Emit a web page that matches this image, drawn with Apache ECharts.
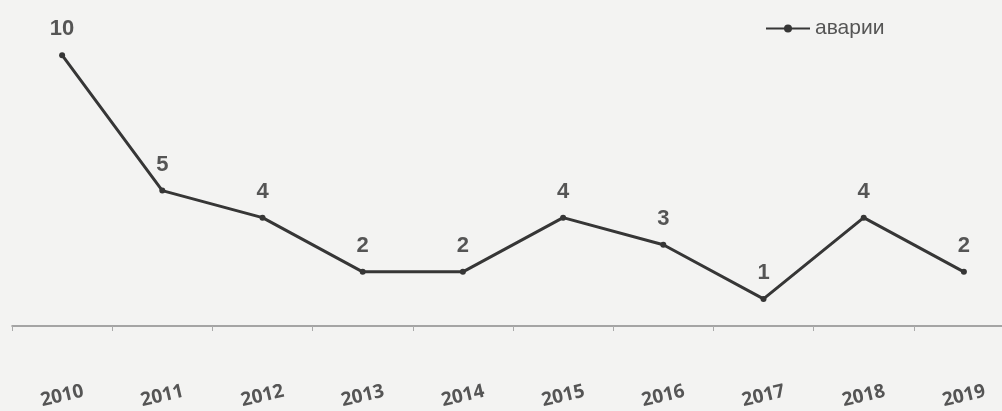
<!DOCTYPE html>
<html><head><meta charset="utf-8">
<script src="https://cdn.jsdelivr.net/npm/echarts@6/dist/echarts.min.js"></script>
<style>html,body{margin:0;padding:0;background:#f3f3f2;}#c{width:1002px;height:411px;}</style>
</head><body><div id="c"></div>
<script>
const categories = ['2010','2011','2012','2013','2014','2015','2016','2017','2018','2019'];
const seriesName = 'аварии';
const values = [10,5,4,2,2,4,3,1,4,2];

const chart = echarts.init(document.getElementById('c'), null, {renderer:'canvas'});
chart.setOption({
  backgroundColor:'#f3f3f2',
  animation:false,
  legend:{
    data:[seriesName], top:13, left:760, itemWidth:44, itemHeight:10, itemGap:3,
    textStyle:{fontFamily:'Liberation Sans', fontSize:21, color:'#555'}
  },
  grid:{left:12, width:1002, top:1, height:325, outerBoundsMode:'none', containLabel:false},
  xAxis:{
    type:'category', data:categories, boundaryGap:true,
    axisLine:{lineStyle:{color:'#8a8a8a', width:1.5}},
    axisTick:{show:true, length:5, lineStyle:{color:'#aaa'}},
    axisLabel:{rotate:13, align:'center', verticalAlign:'middle', margin:70,
      fontFamily:'Open Sans', fontWeight:'bold', fontSize:19, color:'#555'}
  },
  yAxis:{type:'value', min:0, max:12, show:false, splitLine:{show:false}},
  series:[{
    name:seriesName, type:'line', data:values,
    symbol:'circle', symbolSize:6,
    lineStyle:{color:'#363636', width:3},
    itemStyle:{color:'#363636'},
    label:{show:true, position:'top', distance:12,
      fontFamily:'Liberation Sans', fontWeight:'bold', fontSize:22, color:'#555'}
  }]
});
</script></body></html>
